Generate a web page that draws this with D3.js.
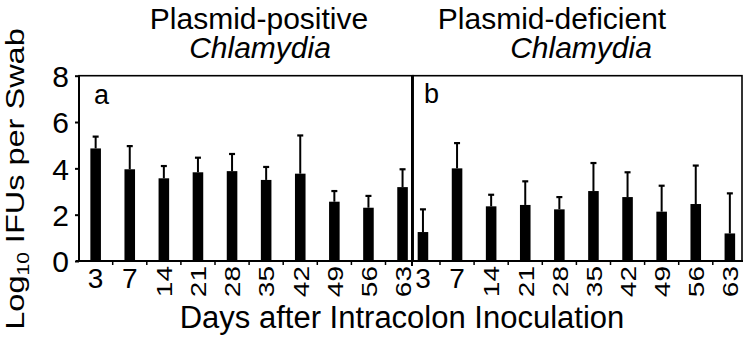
<!DOCTYPE html>
<html>
<head>
<meta charset="utf-8">
<title>IFUs per swab</title>
<style>
  body { margin: 0; background: #fff; }
  svg text { font-family: "Liberation Sans", Arial, sans-serif; fill: #000; }
  .axis path, .axis line { stroke: #000; stroke-width: 2; fill: none; }
</style>
<script src="https://d3js.org/d3.v7.min.js"></script>
</head>
<body>
<script>
// data
var days = [3, 7, 14, 21, 28, 35, 42, 49, 56, 63];
var posMean = [4.86, 3.96, 3.57, 3.83, 3.88, 3.50, 3.77, 2.56, 2.30, 3.19];
var posErr  = [0.51, 1.00, 0.53, 0.63, 0.74, 0.56, 1.65, 0.46, 0.51, 0.77];
var defMean = [1.25, 4.00, 2.36, 2.42, 2.23, 3.02, 2.76, 2.13, 2.46, 1.19];
var defErr  = [0.98, 1.09, 0.50, 1.02, 0.53, 1.21, 1.07, 1.12, 1.66, 1.73];
var yTicks = [0, 2, 4, 6, 8];

var width = 750, height = 342;
var svg = d3.select('body').append('svg')
  .attr('width', width).attr('height', height);

var plotTop = 75.7, plotBottom = 261;
var y = d3.scaleLinear().domain([0, 8]).range([plotBottom, plotTop]);

var panels = [
  {label: 'a', mean: posMean, err: posErr, range: [78.6, 419.6], frame: [79, 413],
   title: ['Plasmid-positive', 'Chlamydia'], tx: [259, 260], lx: 94, ly: 104},
  {label: 'b', mean: defMean, err: defErr, range: [405.9, 746.9], frame: [413, 742],
   title: ['Plasmid-deficient', 'Chlamydia'], tx: [552, 581], lx: 424, ly: 103}
];

panels.forEach(function(p, k) {
  var x = d3.scaleBand().domain(days).range(p.range).paddingInner(0.69).paddingOuter(0.345);
  var g = svg.append('g');

  // frame
  g.append('rect')
    .attr('x', p.frame[0]).attr('y', plotTop)
    .attr('width', p.frame[1] - p.frame[0]).attr('height', plotBottom - plotTop)
    .attr('fill', 'none').attr('stroke', '#000').attr('stroke-width', 1.6);

  // bars
  g.selectAll('.bar').data(days).enter().append('rect')
    .attr('x', d => x(d))
    .attr('y', (d, i) => y(p.mean[i]))
    .attr('width', x.bandwidth())
    .attr('height', (d, i) => plotBottom - y(p.mean[i]))
    .attr('fill', '#000');

  // upper error bars
  g.selectAll('.err').data(days).enter().append('line')
    .attr('x1', d => x(d) + x.bandwidth() / 2)
    .attr('x2', d => x(d) + x.bandwidth() / 2)
    .attr('y1', (d, i) => y(p.mean[i]))
    .attr('y2', (d, i) => y(p.mean[i] + p.err[i]))
    .attr('stroke', '#000').attr('stroke-width', 2);
  g.selectAll('.cap').data(days).enter().append('line')
    .attr('x1', d => x(d) + x.bandwidth() / 2 - 3)
    .attr('x2', d => x(d) + x.bandwidth() / 2 + 3)
    .attr('y1', (d, i) => y(p.mean[i] + p.err[i]))
    .attr('y2', (d, i) => y(p.mean[i] + p.err[i]))
    .attr('stroke', '#000').attr('stroke-width', 2.2);

  // x axis ticks at band edges
  var edges = days.slice(1).map(d => x(d) - x.step() * x.paddingInner() / 2);
  g.selectAll('.xt').data(edges).enter().append('line')
    .attr('x1', d => d).attr('x2', d => d)
    .attr('y1', plotBottom).attr('y2', plotBottom + 4)
    .attr('stroke', '#000').attr('stroke-width', 1.5);

  // x tick labels (two-digit ones turned, and a little narrower)
  g.selectAll('.xl').data(days).enter().append('text')
    .attr('font-size', 28)
    .attr('transform', d => {
      var cx = x(d) + x.bandwidth() / 2;
      return d < 10 ? 'translate(' + cx + ',288)' : 'translate(' + cx + ',266) rotate(-90) scale(1,0.82)';
    })
    .attr('text-anchor', d => d < 10 ? 'middle' : 'end')
    .attr('dy', d => d < 10 ? 0 : '0.36em')
    .text(d => d);

  // y axis
  var ax = k === 0 ? 79 : 412;
  var yAxis = d3.axisLeft(y).tickValues(yTicks).tickSize(k === 0 ? 4 : 0).tickFormat(k === 0 ? d3.format('d') : '');
  svg.append('g').attr('class', 'axis')
    .attr('transform', 'translate(' + ax + ',0)')
    .call(yAxis)
    .call(a => a.select('.domain').remove())
    .call(a => a.selectAll('text').attr('font-size', 30).attr('x', -10).attr('dy', '0.36em'));
  svg.append('line')
    .attr('x1', ax).attr('x2', ax)
    .attr('y1', plotTop).attr('y2', plotBottom + (k === 0 ? 0 : 5))
    .attr('stroke', '#000').attr('stroke-width', 2);

  // panel letter
  g.append('text').attr('x', p.lx).attr('y', p.ly).attr('font-size', 27).text(p.label);

  // titles
  g.append('text').attr('x', p.tx[0]).attr('y', 29).attr('text-anchor', 'middle')
    .attr('font-size', 30).text(p.title[0]);
  g.append('text').attr('x', p.tx[1]).attr('y', 57.5).attr('text-anchor', 'middle')
    .attr('font-size', 30).attr('font-style', 'italic').text(p.title[1]);
});

// x axis line
svg.append('line').attr('x1', 76).attr('x2', 743).attr('y1', plotBottom).attr('y2', plotBottom)
  .attr('stroke', '#000').attr('stroke-width', 2);

// axis titles
svg.append('text').attr('x', 402).attr('y', 328).attr('text-anchor', 'middle')
  .attr('font-size', 31).text('Days after Intracolon Inoculation');

var yl = svg.append('text').attr('transform', 'translate(24,179) rotate(-90) scale(1,0.8)')
  .attr('text-anchor', 'middle').attr('font-size', 32.5);
yl.append('tspan').text('Log');
yl.append('tspan').attr('font-size', 21).attr('dy', 6).text('10');
yl.append('tspan').attr('dy', -6).text(' IFUs per Swab');
</script>
</body>
</html>
